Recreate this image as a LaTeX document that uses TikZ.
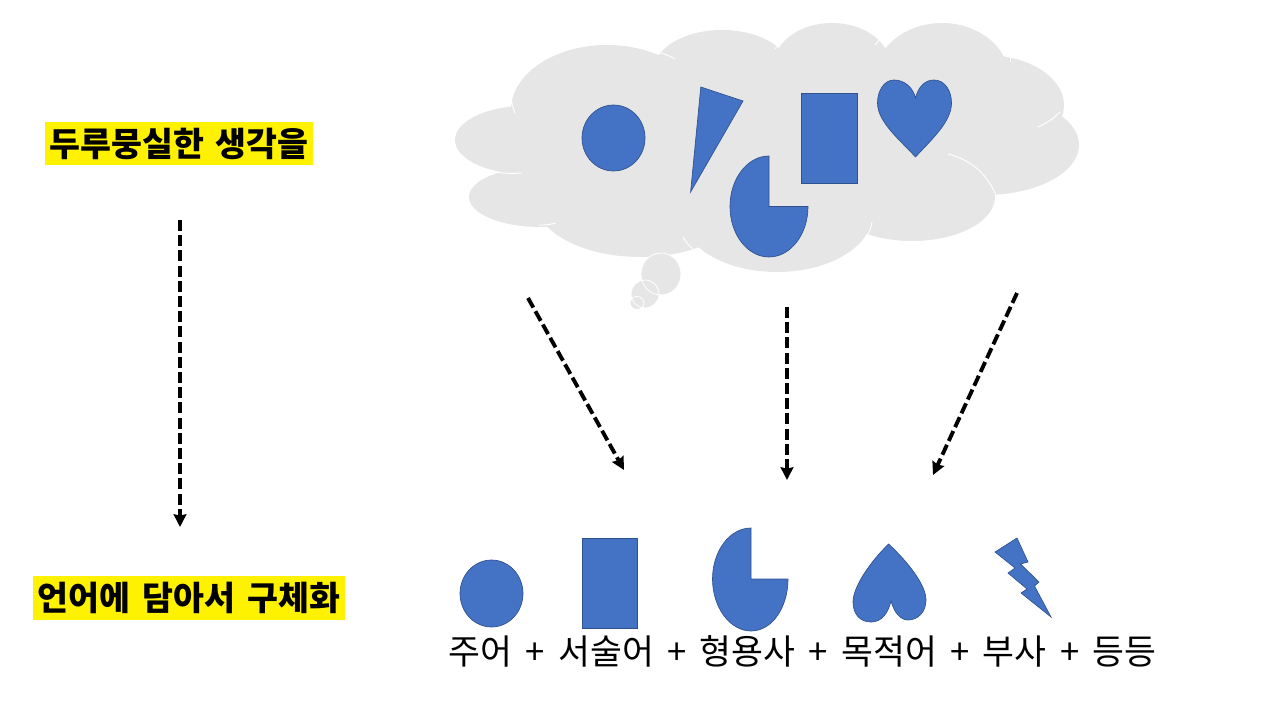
\documentclass[tikz,border=0pt]{standalone}
\usepackage{fontspec}
\setmainfont{Noto Sans CJK KR}
\usetikzlibrary{arrows.meta}
\definecolor{cloudgray}{HTML}{E7E6E6}
\definecolor{shapeblue}{HTML}{4472C4}
\definecolor{shapeedge}{HTML}{2F528F}
\tikzset{
  px/.style={x=0.75pt,y=-0.75pt},
  lobe/.style={fill=cloudgray,draw=none},
  bubble/.style={fill=cloudgray,draw=none},
  bubbleline/.style={draw=white,line width=0.6pt},
  seam/.style={draw=white,line width=0.7pt},
  blueshape/.style={fill=shapeblue,draw=shapeedge,line width=0.5pt},
  dasharrow/.style={draw=black,line width=2.9pt,dash pattern=on 8.2pt off 3.2pt,-{Stealth[length=9.5pt,width=9.5pt,inset=1pt]}},
  headline/.style={fill=yellow,text=black,font=\fontsize{25.2pt}{28pt}\bfseries\selectfont,inner xsep=0pt,inner ysep=0pt,minimum height=32.5pt,anchor=center},
  wordline/.style={text=black,font=\fontsize{26pt}{30pt}\selectfont,inner sep=0pt,anchor=center}
}
\begin{document}
\begin{tikzpicture}[px]
\useasboundingbox (0,0) rectangle (1280,720);
% cloud lobes
\path[lobe] (525,140) ellipse [x radius=70*0.75pt,y radius=34*0.75pt];
\path[lobe] (540,197) ellipse [x radius=71*0.75pt,y radius=30*0.75pt];
\path[lobe] (607,110) ellipse [x radius=96*0.75pt,y radius=65*0.75pt];
\path[lobe] (640,200) ellipse [x radius=105*0.75pt,y radius=57*0.75pt];
\path[lobe] (722,70) ellipse [x radius=68*0.75pt,y radius=40*0.75pt];
\path[lobe] (832,65) ellipse [x radius=58*0.75pt,y radius=42*0.75pt];
\path[lobe] (942,80) ellipse [x radius=68*0.75pt,y radius=57*0.75pt];
\path[lobe] (985,105) ellipse [x radius=79*0.75pt,y radius=50*0.75pt];
\path[lobe] (985,145) ellipse [x radius=94*0.75pt,y radius=50*0.75pt];
\path[lobe] (912,197) ellipse [x radius=83*0.75pt,y radius=44*0.75pt];
\path[lobe] (777,215) ellipse [x radius=95*0.75pt,y radius=57*0.75pt];
\path[lobe] (780,140) ellipse [x radius=230*0.75pt,y radius=85*0.75pt];
% seams
\draw[seam] (657,52) to[bend left=8] (675,59);
\draw[seam] (775,49) to[bend left=15] (782,42);
\draw[seam] (875,45) to[bend left=12] (887,35);
\draw[seam] (1010,55) -- (1010,62);
\draw[seam] (1060,112) to[bend left=10] (1038,127);
\draw[seam] (948,154) to[bend left=25] (996,195);
\draw[seam] (872,222) to[bend left=10] (867,236);
\draw[seam] (683,237) to[bend right=10] (693,249);
\draw[seam] (538,225) to[bend right=8] (556,223);
\draw[seam] (484,169) to[bend right=10] (522,173);
\draw[seam] (511,97) to[bend right=8] (515,113);
% thought bubbles
\path[bubble] (661,274) ellipse [x radius=20*0.75pt,y radius=21*0.75pt];
\path[bubble] (645,294) ellipse [x radius=14*0.75pt,y radius=14*0.75pt];
\path[bubble] (637,303) ellipse [x radius=7*0.75pt,y radius=6.5*0.75pt];
\path[bubbleline] (661,274) ellipse [x radius=20*0.75pt,y radius=21*0.75pt];
\path[bubbleline] (645,294) ellipse [x radius=14*0.75pt,y radius=14*0.75pt];
\path[bubbleline] (637,303) ellipse [x radius=7*0.75pt,y radius=6.5*0.75pt];
% shapes in cloud
\path[blueshape] (613.5,138) ellipse [x radius=31.5*0.75pt,y radius=33*0.75pt];
\path[blueshape] (700.8,87) -- (743,101) -- (690.6,192) -- cycle;
\path[blueshape] (801,93) rectangle (857,183);
\path[blueshape] (769,156) .. controls (747.5,156) and (730,178.6) .. (730,206.5)
  .. controls (730,234.4) and (747.5,257) .. (769,257)
  .. controls (790.5,257) and (808,234.4) .. (808,206.5) -- (769,206.5) -- cycle;
\path[blueshape] (915.5,157) .. controls (900,140) and (877.5,122) .. (877.5,103)
  .. controls (877.5,91) and (884,80) .. (894,80)
  .. controls (905,80) and (913,88) .. (915.5,98)
  .. controls (918,88) and (924,80) .. (934,80)
  .. controls (945,80) and (951.5,91) .. (951.5,103)
  .. controls (951.5,122) and (931,140) .. (915.5,157) -- cycle;
% lower shapes
\path[blueshape] (491.5,593.5) ellipse [x radius=31.5*0.75pt,y radius=33.5*0.75pt];
\path[blueshape] (582.5,538) rectangle (637.5,628);
\path[blueshape] (751,528) .. controls (729.7,528) and (712.5,551) .. (712.5,579)
  .. controls (712.5,607) and (729.7,631) .. (751,631)
  .. controls (772.3,631) and (788,607) .. (788,579) -- (751,579) -- cycle;
\path[blueshape] (888.6,544) .. controls (870,562) and (853,587) .. (853,602)
  .. controls (853,614) and (860,622) .. (871,622)
  .. controls (882,622) and (888,613) .. (891,601)
  .. controls (894,612) and (900,620) .. (908,620)
  .. controls (918,620) and (926,612) .. (926,600)
  .. controls (926,585) and (908,562) .. (888.6,544) -- cycle;
\path[blueshape] (995,552) -- (1017,538) -- (1028,562) -- (1020.5,564) -- (1039,582) -- (1034.5,586) -- (1051,617) -- (1021,593) -- (1027,589) -- (1008,573) -- (1015,568) -- cycle;
% text
\node[headline,minimum width=201pt] (top) at (179,143.5) {\spaceskip=9pt\relax 두루뭉실한 생각을};
\node[headline,minimum width=234pt] (bottom) at (189,598) {\spaceskip=9pt\relax 언어에 담아서 구체화};
\node[wordline] (words) at (802.5,651) {\spaceskip=10pt\relax 주어 + 서술어 + 형용사 + 목적어 + 부사 + 등등};
% arrows
\coordinate (a1) at (180,220); \coordinate (a2) at (180,527);
\coordinate (b1) at (528,298); \coordinate (b2) at (624,470);
\coordinate (c1) at (787,307); \coordinate (c2) at (787,480);
\coordinate (d1) at (1017,293); \coordinate (d2) at (933,475);
\draw[dasharrow] (a1) -- (a2);
\draw[dasharrow] (b1) -- (b2);
\draw[dasharrow] (c1) -- (c2);
\draw[dasharrow] (d1) -- (d2);
\end{tikzpicture}
\end{document}
